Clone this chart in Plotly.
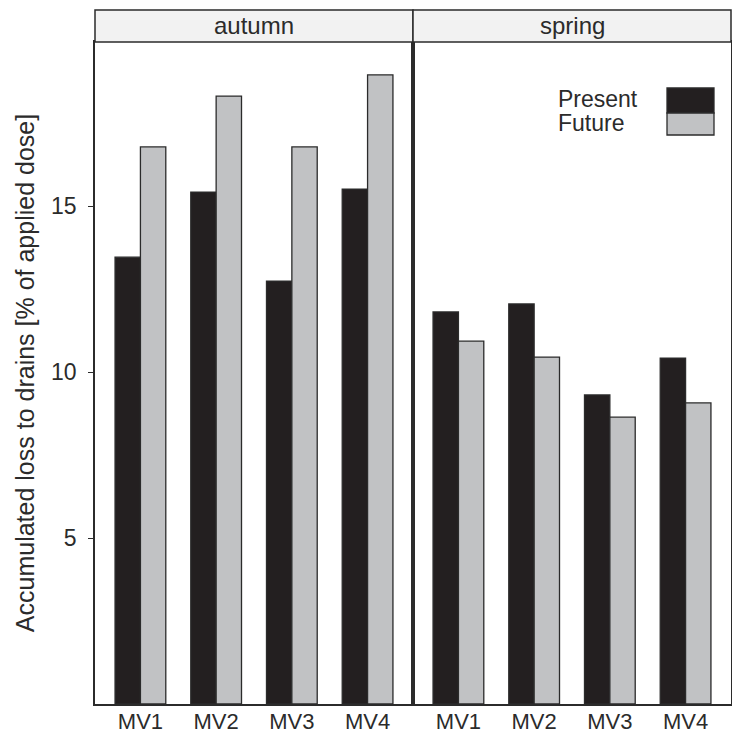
import plotly.graph_objects as go
from plotly.subplots import make_subplots

categories = ["MV1", "MV2", "MV3", "MV4"]
seasons = ["autumn", "spring"]
present = {"autumn": [13.46, 15.42, 12.74, 15.51], "spring": [11.81, 12.05, 9.31, 10.42]}
future = {"autumn": [16.78, 18.31, 16.78, 18.95], "spring": [10.93, 10.45, 8.64, 9.07]}
series_names = ["Present", "Future"]
colors = ["#231f20", "#c1c2c4"]
y_ticks = [5, 10, 15]
y_title = "Accumulated loss to drains [% of applied dose]"

W, H = 732, 733
L, R, T, B = 95, 1, 42, 29
STRIP = 32
ink = "#2b2b2b"
font = "Liberation Sans, Arial, sans-serif"

fig = make_subplots(rows=1, cols=2, shared_yaxes=True, horizontal_spacing=0)
for i, s in enumerate(seasons):
    for name, data, c in zip(series_names, [present, future], colors):
        fig.add_trace(go.Bar(x=categories, y=data[s], name=name, marker_color=c,
                             marker_line_color=ink, marker_line_width=1.3,
                             showlegend=False), row=1, col=i + 1)

fig.update_layout(width=W, height=H, margin=dict(l=L, r=R, t=T, b=B, autoexpand=False),
                  barmode="group", bargap=0.33, bargroupgap=0,
                  plot_bgcolor="white", paper_bgcolor="white",
                  font=dict(family=font, size=22, color=ink))
for i in (1, 2):
    fig.update_xaxes(range=[-0.6, 3.6], showline=True, mirror=True, linecolor=ink,
                     linewidth=1.5, ticks="", showgrid=False, automargin=False,
                     ticklabelstandoff=-3,
                     tickfont=dict(size=22, color=ink), row=1, col=i)
fig.update_yaxes(range=[0, 19.94], tickvals=y_ticks, showline=True, mirror=True,
                 linecolor=ink, linewidth=1.5, showgrid=False, zeroline=False,
                 automargin=False)
fig.update_yaxes(ticks="outside", ticklen=5, tickcolor=ink, tickwidth=1.3,
                 ticklabelstandoff=7,
                 tickfont=dict(size=23, color=ink),
                 title=dict(text=y_title, standoff=9, font=dict(size=25, color=ink)),
                 row=1, col=1)
fig.update_yaxes(ticks="", showticklabels=False, row=1, col=2)

plot_h = H - T - B
sh = STRIP / plot_h
for i, s in enumerate(seasons):
    x0, x1 = i * 0.5, (i + 1) * 0.5
    fig.add_shape(type="rect", xref="paper", yref="paper", x0=x0, x1=x1, y0=1, y1=1 + sh,
                  fillcolor="#f2f2f2", line=dict(color=ink, width=1.5))
    fig.add_annotation(xref="paper", yref="paper", x=(x0 + x1) / 2, y=1 + sh / 2,
                       text=s, showarrow=False, font=dict(size=24, color=ink),
                       xanchor="center", yanchor="middle")

# legend drawn manually (top-right of spring panel)
plot_w = W - L - R
def px(x):
    return (x - L) / plot_w
def py(y):
    return (H - B - y) / plot_h
fig.add_shape(type="rect", xref="paper", yref="paper", x0=px(667), x1=px(714),
              y0=py(113), y1=py(88), fillcolor=colors[0], line=dict(color=ink, width=1.3))
fig.add_shape(type="rect", xref="paper", yref="paper", x0=px(667), x1=px(714),
              y0=py(135), y1=py(113), fillcolor=colors[1], line=dict(color=ink, width=1.3))
for name, yc in zip(series_names, [99, 123]):
    fig.add_annotation(xref="paper", yref="paper", x=px(556), y=py(yc), text=name,
                       showarrow=False, xanchor="left", yanchor="middle",
                       font=dict(size=23, color=ink))

fig.write_html("out.html", config={"displayModeBar": False},
               post_script="document.body.style.margin='0';document.body.style.overflow='hidden';")
